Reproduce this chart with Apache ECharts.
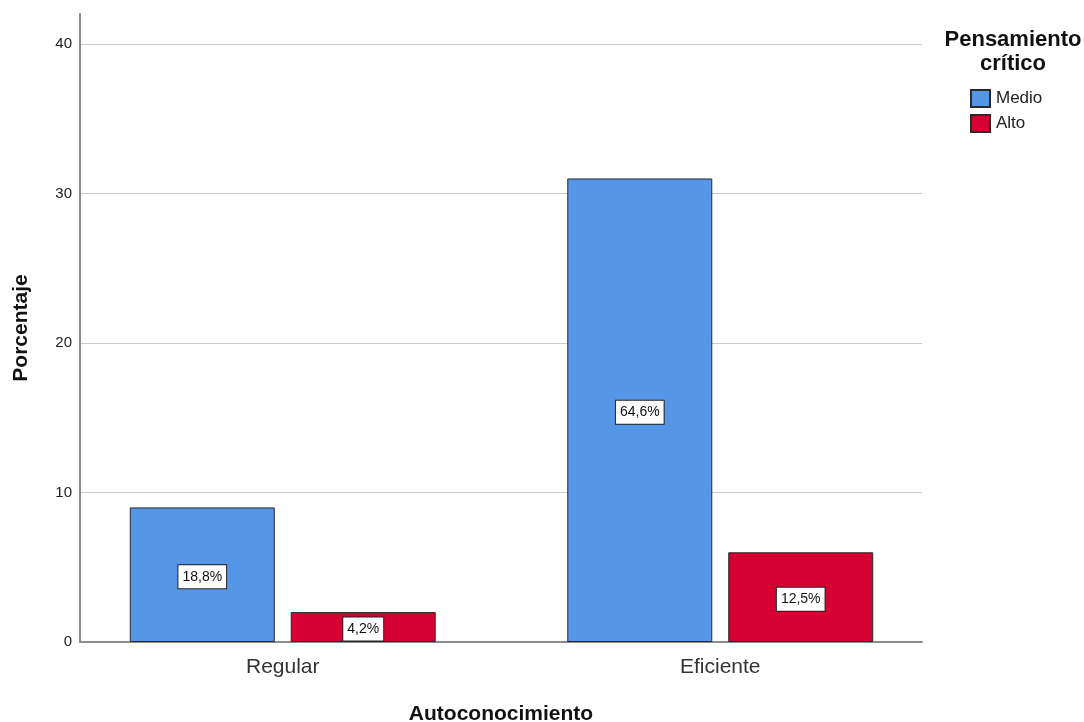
<!DOCTYPE html>
<html>
<head>
<meta charset="utf-8">
<script src="https://cdn.jsdelivr.net/npm/echarts@6/dist/echarts.min.js"></script>
<style>
  html, body { margin: 0; padding: 0; background: #fff; }
  #chart { width: 1084px; height: 722px; }
</style>
</head>
<body>
<div id="chart"></div>
<script>
// Autoconocimiento x Pensamiento crítico (recuentos; etiquetas en % del total)
const categories = ['Regular', 'Eficiente'];
const medio = [9, 31];
const alto = [2, 6];
const total = 48;
const yTicks = [0, 10, 20, 30, 40];

const FONT = '"Liberation Sans", Arial, sans-serif';
const pct = v => (v / total * 100).toFixed(1).replace('.', ',') + '%';

const barLabel = {
  show: true,
  position: 'inside',
  formatter: p => pct(p.value),
  fontFamily: FONT,
  fontSize: 14,
  color: '#111',
  backgroundColor: '#fff',
  borderColor: '#222',
  borderWidth: 1,
  padding: [5, 4, 4, 4],
  offset: [0, 2]
};

const chart = echarts.init(document.getElementById('chart'), null, { renderer: 'canvas' });
chart.setOption({
  animation: false,
  textStyle: { fontFamily: FONT },
  title: {
    text: 'Pensamiento\ncrítico',
    left: 1008,
    top: 23,
    textAlign: 'center',
    textStyle: { fontFamily: FONT, fontSize: 22, fontWeight: 'bold', color: '#111', lineHeight: 24 }
  },
  legend: {
    orient: 'vertical',
    left: 965,
    top: 84,
    itemWidth: 19,
    itemHeight: 17,
    itemGap: 6,
    icon: 'rect',
    textStyle: { fontFamily: FONT, fontSize: 17, color: '#222', padding: [0, 0, 0, 1] },
    data: ['Medio', 'Alto']
  },
  grid: [
    // frame: axes and grid lines
    { left: 80, right: 162, top: 14, bottom: 80, outerBoundsMode: 'none', containLabel: false },
    // bars
    { left: 64, right: 145, top: 14, bottom: 80, outerBoundsMode: 'none', containLabel: false }
  ],
  xAxis: [
    {
      gridIndex: 0,
      type: 'category',
      data: categories,
      axisLine: { lineStyle: { color: '#8c8c8c', width: 2 } },
      axisTick: { show: false },
      axisLabel: { show: false },
      name: 'Autoconocimiento',
      nameLocation: 'middle',
      nameGap: 62,
      nameTextStyle: { fontFamily: FONT, fontSize: 21, fontWeight: 'bold', color: '#111' }
    },
    {
      gridIndex: 1,
      type: 'category',
      data: categories,
      axisLine: { show: false },
      axisTick: { show: false },
      axisLabel: { fontFamily: FONT, fontSize: 21, color: '#333', margin: 15 }
    }
  ],
  yAxis: [
    {
      gridIndex: 0,
      type: 'value',
      min: 0,
      max: 42,
      interval: 10,
      axisLine: { show: true, lineStyle: { color: '#8c8c8c', width: 2 } },
      axisTick: { show: false },
      axisLabel: {
        fontFamily: FONT, fontSize: 15, color: '#222', margin: 8,
        formatter: v => (yTicks.includes(v) ? String(v) : '')
      },
      splitLine: { show: true, showMinLine: false, showMaxLine: false, lineStyle: { color: '#c8c8c8', width: 1 } },
      name: 'Porcentaje',
      nameLocation: 'middle',
      nameGap: 48,
      nameTextStyle: { fontFamily: FONT, fontSize: 21, fontWeight: 'bold', color: '#111' }
    },
    {
      gridIndex: 1,
      type: 'value',
      min: 0,
      max: 42,
      interval: 10,
      show: false,
      splitLine: { show: false }
    }
  ],
  series: [
    {
      name: 'Medio',
      type: 'bar',
      xAxisIndex: 1,
      yAxisIndex: 1,
      data: medio,
      barWidth: 145,
      barGap: '11%',
      itemStyle: { color: '#5596e6', borderColor: '#2a2a2a', borderWidth: 1 },
      label: barLabel
    },
    {
      name: 'Alto',
      type: 'bar',
      xAxisIndex: 1,
      yAxisIndex: 1,
      data: alto,
      barWidth: 145,
      barGap: '11%',
      itemStyle: { color: '#d60032', borderColor: '#2a2a2a', borderWidth: 1 },
      label: barLabel
    }
  ]
});
</script>
</body>
</html>
